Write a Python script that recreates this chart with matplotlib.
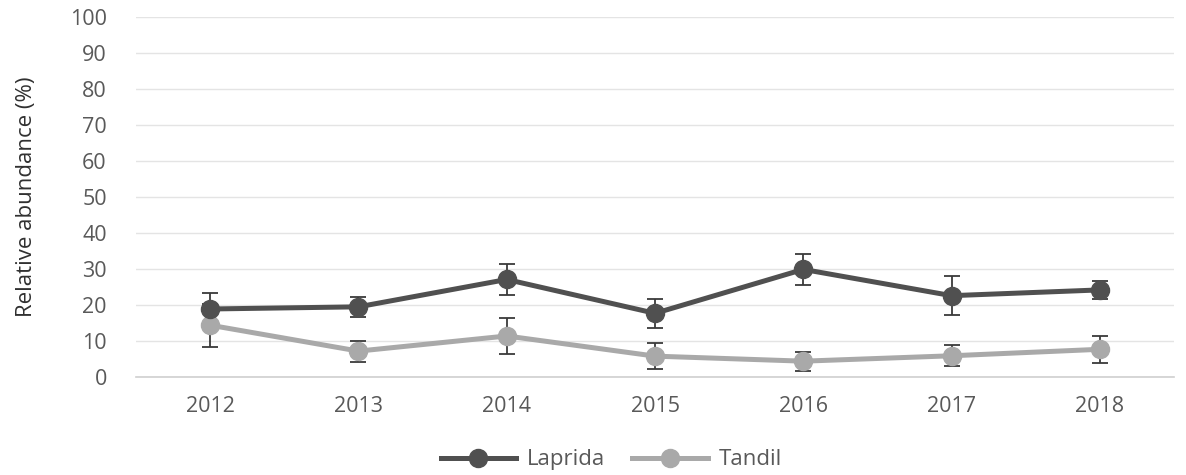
import numpy as np
import matplotlib.pyplot as plt

# --- Data ---
years = ['2012', '2013', '2014', '2015', '2016', '2017', '2018']
laprida = [18.9, 19.5, 27.1, 17.7, 29.9, 22.6, 24.2]
laprida_err = [4.5, 2.8, 4.2, 4.0, 4.3, 5.5, 2.5]
tandil = [14.4, 7.2, 11.4, 5.8, 4.4, 5.9, 7.7]
tandil_err = [6.0, 2.9, 5.1, 3.7, 2.6, 2.9, 3.7]

dark = '#505050'
light = '#a9a9a9'
text_col = '#595959'

plt.rcParams['font.family'] = ['Open Sans', 'DejaVu Sans']

fig = plt.figure(figsize=(11.86, 4.75), dpi=100)
ax = fig.add_axes([0.1147, 0.2063, 0.8752, 0.7577])

x = np.arange(len(years))

# error bars sit under both lines
ax.errorbar(x, laprida, yerr=laprida_err, fmt='none', ecolor='#3a3a3a',
            elinewidth=1.3, capsize=6, capthick=1.3, zorder=1)
ax.errorbar(x, tandil, yerr=tandil_err, fmt='none', ecolor='#3a3a3a',
            elinewidth=1.3, capsize=6, capthick=1.3, zorder=1)
ax.plot(x, tandil, color=light, lw=3.6, marker='o', markersize=13,
        label='Tandil', zorder=2)
ax.plot(x, laprida, color=dark, lw=3.6, marker='o', markersize=13,
        label='Laprida', zorder=3)

ax.set_xlim(-0.5, len(years) - 0.5)
ax.set_ylim(0, 100)
ax.set_yticks(range(0, 101, 10))
ax.set_xticks(x)
ax.set_xticklabels(years)
ax.tick_params(length=0, labelsize=15.5, colors=text_col)
ax.tick_params(axis='x', pad=14)
ax.tick_params(axis='y', pad=21)

ax.grid(axis='y', color='#e4e4e4', lw=1)
ax.set_axisbelow(True)
for s in ['top', 'right', 'left']:
    ax.spines[s].set_visible(False)
ax.spines['bottom'].set_color('#cfcfcf')
ax.spines['bottom'].set_linewidth(1.2)

ax.set_ylabel('Relative abundance (%)', fontsize=16, color='#303030')
ax.yaxis.set_label_coords(-0.095, 0.5)

handles, labels = ax.get_legend_handles_labels()
ax.legend(handles[::-1], labels[::-1], loc='center', ncol=2,
          bbox_to_anchor=(0.458, -0.23), frameon=False, fontsize=16,
          labelcolor=text_col, handlelength=3.4, columnspacing=1.2,
          handletextpad=0.5)

fig.savefig('out.png', dpi=100)
